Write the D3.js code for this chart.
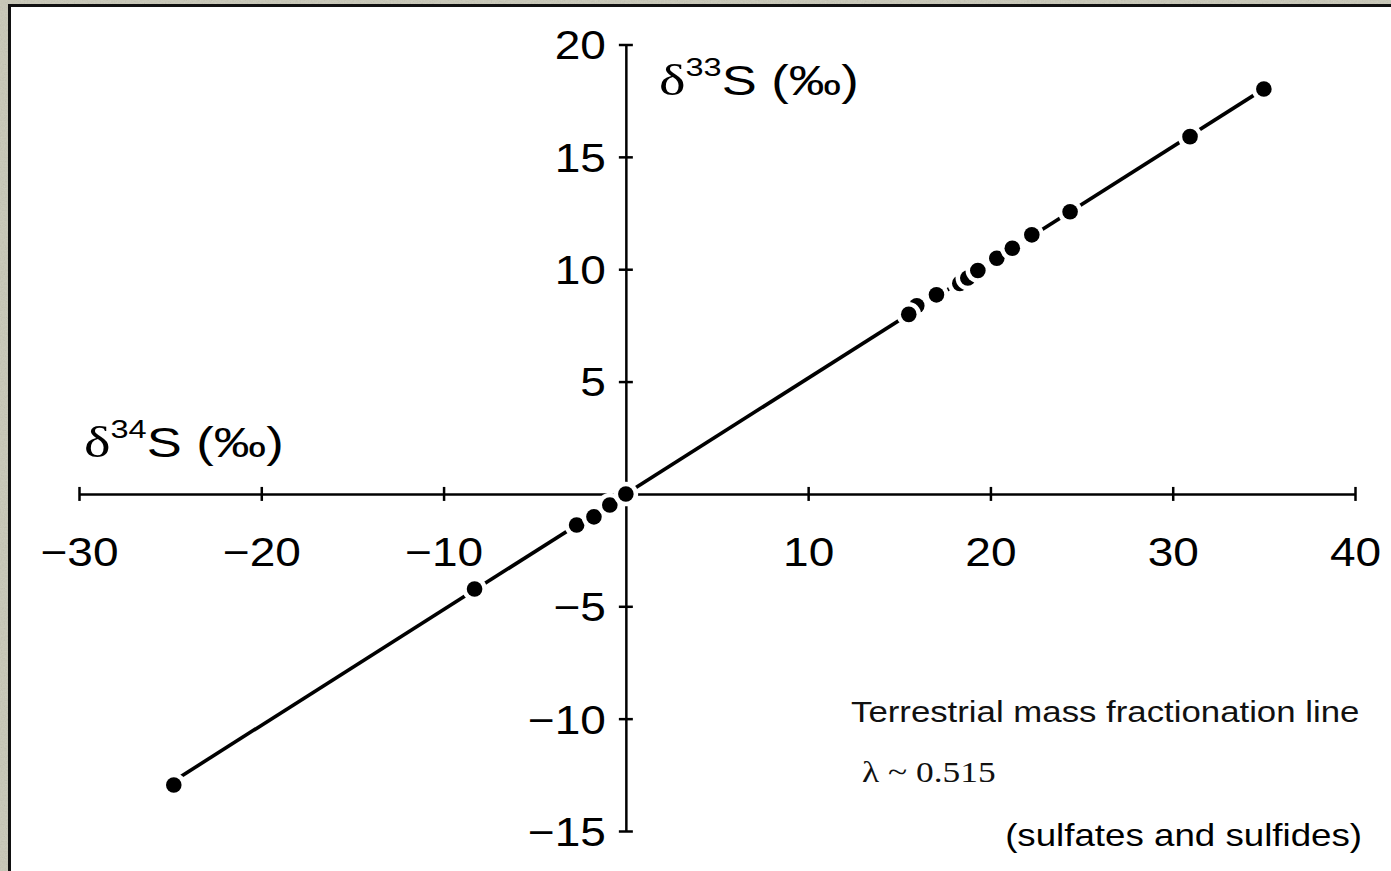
<!DOCTYPE html>
<html><head><meta charset="utf-8">
<script src="https://cdn.jsdelivr.net/npm/d3@7"></script>
<style>body{margin:0;overflow:hidden;background:#c9c8b7}svg{display:block}</style>
</head><body><svg id="c" width="1391" height="871"></svg>
<script>
// ---- data ----
const xTicks = [-30, -20, -10, 0, 10, 20, 30, 40];
const xTickLabels = ["\u221230", "\u221220", "\u221210", "", "10", "20", "30", "40"];
const yTicks = [-15, -10, -5, 0, 5, 10, 15, 20];
const yTickLabels = ["\u221215", "\u221210", "\u22125", "", "5", "10", "15", "20"];
const lambdaSlope = 0.515;
const lineD34 = [-24.8, 35.0];
// samples (δ34S, δ33S) in drawing order
const sampleD34 = [-24.8, -8.3, -2.7, -1.75, -0.88, 0.0, 15.96, 15.52, 17.04, 18.32, 18.76, 19.31, 20.35, 21.2, 22.27, 24.37, 30.95, 35.0];
const sampleD33 = [-12.95, -4.23, -1.38, -1.02, -0.49, 0.0, 8.37, 7.99, 8.86, 9.37, 9.61, 9.94, 10.49, 10.93, 11.53, 12.56, 15.9, 18.02];
const xTitle = ["\u03b4", "34", "S (\u2030)"];
const yTitle = ["\u03b4", "33", "S (\u2030)"];
const note1 = "Terrestrial mass fractionation line";
const note2 = "\u03bb ~ 0.515";
const note3 = "(sulfates and sulfides)";

// ---- drawing ----
const SX = 1.15;
const svg = d3.select("#c");
const defs = svg.append("defs");
const f = defs.append("filter").attr("id", "noise").attr("x", 0).attr("y", 0).attr("width", "100%").attr("height", "100%");
f.append("feTurbulence").attr("type", "fractalNoise").attr("baseFrequency", 0.7).attr("numOctaves", 3).attr("seed", 4);
f.append("feColorMatrix").attr("type", "saturate").attr("values", 0);
svg.append("rect").attr("width", 1391).attr("height", 871).attr("fill", "#c9c8b7");
svg.append("rect").attr("width", 1391).attr("height", 871).attr("filter", "url(#noise)").attr("opacity", 0.22);
svg.append("rect").attr("x", 9.5).attr("y", 5.5).attr("width", 1500).attr("height", 1000)
  .attr("fill", "#fff").attr("stroke", "#111").attr("stroke-width", 3);

const x = d3.scaleLinear().domain([-30, 40]).range([79, 1355]);
const y = d3.scaleLinear().domain([-15, 20]).range([831, 44.5]);
const sans = "'Liberation Sans', Arial, Helvetica, sans-serif";
const serif = "'Liberation Serif', 'Times New Roman', serif";

// x axis
const gx = svg.append("g").attr("transform", `translate(0,${y(0)})`)
  .call(d3.axisBottom(x).tickValues(xTicks).tickSize(0).tickPadding(0)
    .tickFormat((d, i) => xTickLabels[i]));
gx.select(".domain").attr("stroke", "#000").attr("stroke-width", 2.5);
gx.selectAll(".tick line").attr("y1", -7).attr("y2", 7).attr("stroke", "#000").attr("stroke-width", 2.5);
gx.selectAll(".tick text").attr("y", 0).attr("dy", 0)
  .attr("transform", `translate(0,72) scale(${SX},1)`)
  .attr("font-family", sans).attr("font-size", 40).attr("fill", "#000");

// y axis
const gy = svg.append("g").attr("transform", `translate(${x(0)},0)`)
  .call(d3.axisLeft(y).tickValues(yTicks).tickSize(0).tickPadding(0)
    .tickFormat((d, i) => yTickLabels[i]));
gy.select(".domain").attr("stroke", "#000").attr("stroke-width", 2.5);
gy.selectAll(".tick line").attr("x1", -7).attr("x2", 7).attr("stroke", "#000").attr("stroke-width", 2.5);
gy.selectAll(".tick text").attr("x", 0).attr("dy", "0.36em")
  .attr("transform", `translate(-20,0) scale(${SX},1)`)
  .attr("font-family", sans).attr("font-size", 40).attr("fill", "#000");
svg.selectAll(".tick text").style("font-family", sans);

// fractionation line
const line = d3.line().x(d => x(d)).y(d => y(lambdaSlope * d));
svg.append("path").datum(lineD34).attr("d", line)
  .attr("fill", "none").attr("stroke", "#000").attr("stroke-width", 3.6);

// samples with white halo
const pts = sampleD34.map((v, i) => [v, sampleD33[i]]);
const pg = svg.append("g");
pts.forEach(p => {
  pg.append("circle").attr("cx", x(p[0])).attr("cy", y(p[1])).attr("r", 12.3).attr("fill", "#fff");
  pg.append("circle").attr("cx", x(p[0])).attr("cy", y(p[1])).attr("r", 7.8).attr("fill", "#000");
});

// axis titles
function title(parts, px, py) {
  const t = svg.append("text").attr("transform", `translate(${px},${py}) scale(1.25,1)`).attr("fill", "#000");
  t.append("tspan").attr("font-family", serif).attr("font-size", 45).text(parts[0]);
  t.append("tspan").attr("font-family", sans).attr("font-size", 26).attr("dy", -19).text(parts[1]);
  t.append("tspan").attr("font-family", sans).attr("font-size", 42).attr("dy", 19).text(parts[2]);
}
title(xTitle, 84, 457);
title(yTitle, 659, 95);

// notes
svg.append("text").attr("transform", `translate(851,722) scale(1.16,1)`)
  .attr("font-family", sans).attr("font-size", 30).attr("fill", "#111").text(note1);
svg.append("text").attr("transform", `translate(862,782) scale(1.2,1)`)
  .attr("font-family", serif).attr("font-size", 29.5).attr("fill", "#111").text(note2);
svg.append("text").attr("transform", `translate(1362,846) scale(1.165,1)`).attr("text-anchor", "end")
  .attr("font-family", sans).attr("font-size", 31.5).attr("fill", "#000").text(note3);
</script></body></html>
